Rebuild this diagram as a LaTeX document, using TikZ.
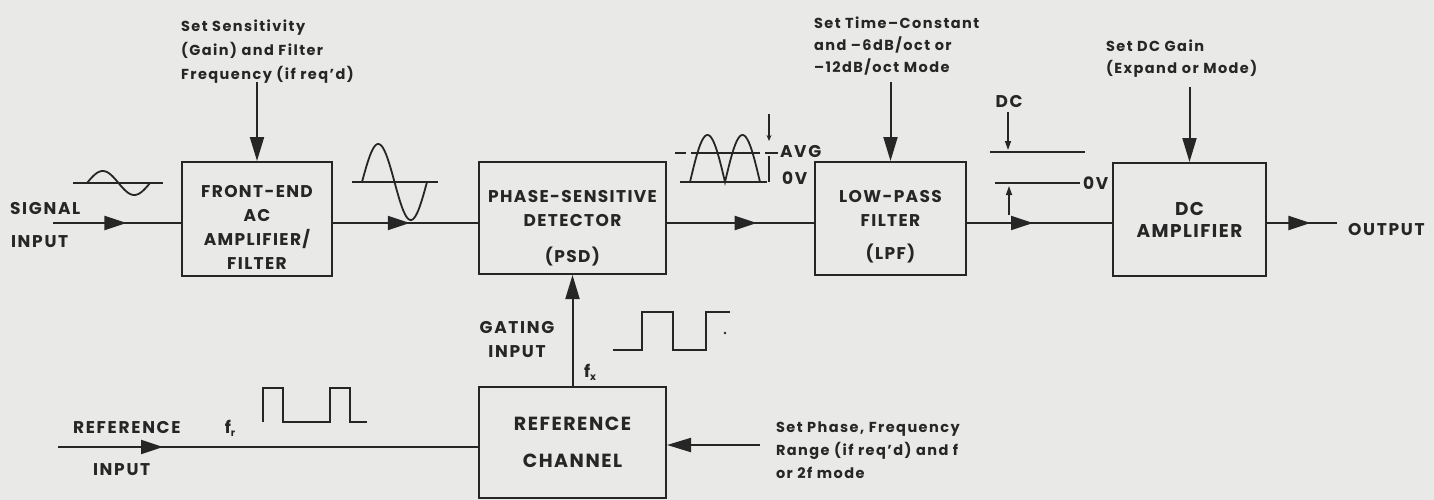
\documentclass[tikz,border=0pt]{standalone}
\usepackage{fontspec}
\setmainfont{Poppins}
\newfontfamily\bx{Poppins}[LetterSpace=8]
\newfontfamily\lb{Poppins}[LetterSpace=10]
\newfontfamily\sm{Poppins}[LetterSpace=10]
\usetikzlibrary{arrows.meta,decorations.markings}
\definecolor{ink}{RGB}{38,38,38}
\definecolor{paper}{RGB}{233,233,231}
\begin{document}
\begin{tikzpicture}[x=1pt,y=-1pt, line width=2pt, color=ink,
  blk/.style={draw, rectangle, inner sep=0pt, align=center, font=\bx\bfseries\fontsize{17}{24}\selectfont},
  tip/.style={-{Triangle[length=24pt,width=14pt]}},
  midarrow/.style={postaction={decorate}, decoration={markings, mark=at position #1 with {\arrow{Triangle[length=22pt,width=14pt]}}}},
  ctl/.style={font=\sm\bfseries\fontsize{14.5}{24}\selectfont, align=left, inner sep=0pt},
  lab/.style={font=\lb\bfseries\fontsize{17}{24}\selectfont, inner sep=0pt},
  wave/.style={line width=1.8pt}
]
\fill[paper] (0,0) rectangle (1434,500);
\useasboundingbox (0,0) rectangle (1434,500);

% blocks
\node[blk, minimum width=150pt, minimum height=114pt] (fe) at (257,219) {\rule{0pt}{29pt}FRONT-END\\AC\\AMPLIFIER/\\FILTER};
\node[blk, minimum width=187pt, minimum height=112pt] (psd) at (572.5,218) {\rule{0pt}{32pt}PHASE-SENSITIVE\\DETECTOR\\[12pt](PSD)};
\node[blk, minimum width=151pt, minimum height=113pt] (lpf) at (890.5,218.5) {\rule{0pt}{28pt}LOW-PASS\\FILTER\\[9pt](LPF)};
\node[blk, minimum width=153pt, minimum height=113pt, font=\bx\bfseries\fontsize{18.5}{22}\selectfont] (dca) at (1189.5,219.5) {DC\\AMPLIFIER};
\node[blk, minimum width=187pt, minimum height=111pt, font=\bx\bfseries\fontsize{19}{37}\selectfont] (ref) at (572.5,442.5) {REFERENCE\\CHANNEL};

% free ends
\coordinate (sin) at (53,223);
\coordinate (out) at (1337,223);
\coordinate (rin) at (58,447);
\coordinate (fec) at (257,82);
\coordinate (lpfc) at (890.5,82);
\coordinate (dcc) at (1189.5,87);
\coordinate (refc) at (760,445);

% signal path
\draw[midarrow=0.574] (sin) -- (fe.west |- sin);
\draw[midarrow=0.53] (fe.east |- sin) -- (psd.west |- sin);
\draw[midarrow=0.61] (psd.east |- sin) -- (lpf.west |- sin);
\draw[midarrow=0.456] (lpf.east |- sin) -- (dca.west |- sin);
\draw[midarrow=0.62] (dca.east |- sin) -- (out);
\draw[midarrow=0.25] (rin) -- (ref.west |- rin);
\draw[tip] (ref.north) -- (psd.south);
\draw[tip] (refc) -- (ref.east |- refc);
\draw[tip] (fec) -- (fe.north);
\draw[tip] (lpfc) -- (lpf.north);
\draw[tip] (dcc) -- (dca.north);

% labels
\node[lab, anchor=west] (lsig) at (9,209) {SIGNAL};
\node[lab, anchor=west] (lsin) at (10,242) {INPUT};
\node[lab, anchor=west] (lout) at (1347,230) {OUTPUT};
\node[lab, anchor=west] (lref) at (72,428) {REFERENCE};
\node[lab, anchor=west] (lrin) at (92,470) {INPUT};
\node[lab, align=center] (lgate) at (517,340) {GATING\\INPUT};
\node[lab] (lfr) at (230,428) {f\raisebox{-3pt}{\fontsize{10}{10}\selectfont r}};
\node[lab] (lfx) at (590,372) {f\raisebox{-3pt}{\fontsize{10}{10}\selectfont x}};
\node[lab] (ldc) at (1009,102) {DC};
\node[lab, anchor=west] (lavg) at (779,152) {AVG};
\node[lab, anchor=west] (l0v) at (781,178) {0V};
\node[lab, anchor=west] (l0v2) at (1082,183) {0V};

% control texts
\node[ctl, anchor=north west] (tfe) at (180,19) {Set Sensitivity\\(Gain) and Filter\\Frequency (if req’d)};
\node[ctl, anchor=north west, font=\sm\bfseries\fontsize{14.5}{22}\selectfont] (tlpf) at (813,16) {Set Time–Constant\\and –6dB/oct or\\–12dB/oct Mode};
\node[ctl, anchor=north west, font=\sm\bfseries\fontsize{14.5}{22}\selectfont] (tdc) at (1105,39) {Set DC Gain\\(Expand or Mode)};
\node[ctl, anchor=north west, font=\sm\bfseries\fontsize{14.5}{23}\selectfont] (tref) at (775,421) {Set Phase, Frequency\\Range (if req’d) and f\\or 2f mode};

% waveforms
\draw[wave] (73,183) -- (163,183);
\draw[wave] plot[domain=87:150, samples=50] (\x, {183-12*sin(5.7143*(\x-87))});
\draw[wave] (352,182) -- (438,182);
\draw[wave] plot[domain=362:427, samples=60] (\x, {182-38*sin(5.5385*(\x-362))});
\draw[wave] (680,182) -- (767,182);
\draw[wave] plot[domain=690:760, samples=71] (\x, {182-47*abs(sin(5.1429*(\x-690)))});
\draw[wave] (675,153) -- (686,153) (691,153) -- (760,153) (765,153) -- (778,153);
\draw[line width=1.2pt, -{Stealth[length=6pt,width=5pt]}] (769,114) -- (769,141);
\draw[line width=1.2pt] (769,156) -- (769,182);
% DC
\draw[wave] (990,152) -- (1085,152);
\draw[wave] (995,183) -- (1080,183);
\draw[line width=1.4pt, -{Triangle[length=9pt,width=6pt]}] (1008,112) -- (1008,150);
\draw[line width=1.4pt, -{Triangle[length=9pt,width=6pt]}] (1009,215) -- (1009,186);
% square waves
\draw[wave] (263,422) -- (263,388) -- (283,388) -- (283,422) -- (330,422) -- (330,388) -- (350,388) -- (350,422) -- (367,422);
\draw[wave] (613,350) -- (642,350) -- (642,312) -- (673,312) -- (673,350) -- (706,350) -- (706,312) -- (730,312);
\fill (725,333) circle (1.4pt);
\end{tikzpicture}
\end{document}
